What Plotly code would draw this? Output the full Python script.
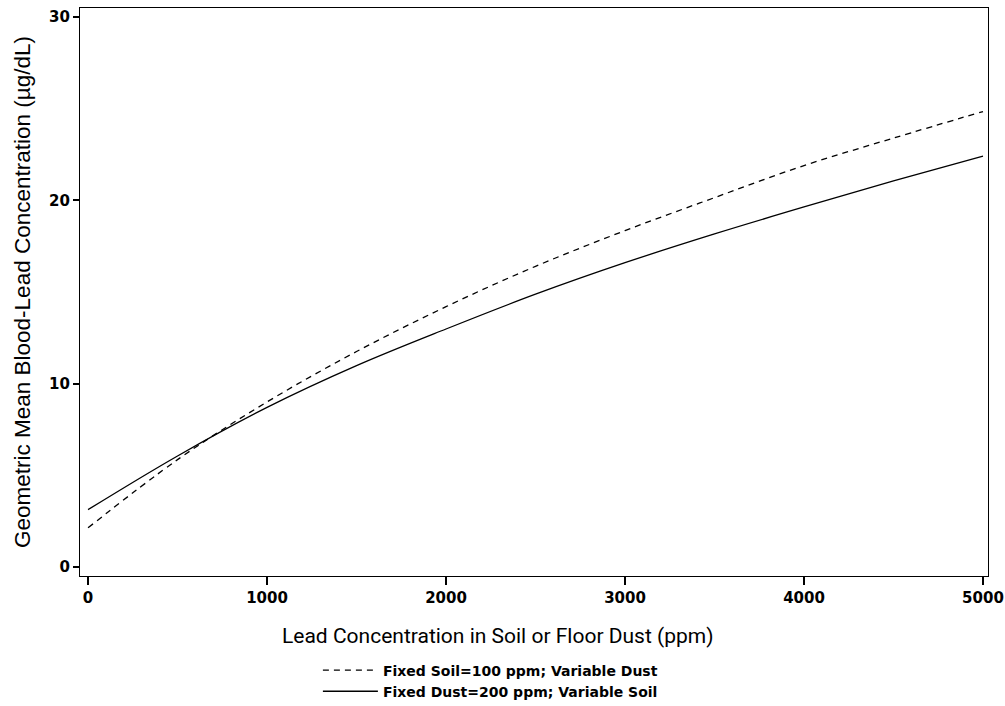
import plotly.graph_objects as go

lead_ppm = [0, 500, 1000, 1500, 2000, 2500, 3000, 3500, 4000, 4500, 5000]
fixed_soil_var_dust = [2.13, 5.85, 9.0, 11.75, 14.2, 16.4, 18.35, 20.15, 21.9, 23.4, 24.85]
fixed_dust_var_soil = [3.12, 6.05, 8.7, 10.98, 12.98, 14.88, 16.6, 18.17, 19.64, 21.06, 22.42]

series_names = ["Fixed Soil=100 ppm; Variable Dust", "Fixed Dust=200 ppm; Variable Soil"]
x_ticks = [0, 1000, 2000, 3000, 4000, 5000]
y_ticks = [0, 10, 20, 30]

fig = go.Figure()
fig.add_trace(go.Scatter(x=lead_ppm, y=fixed_soil_var_dust, mode="lines", name=series_names[0],
                         line=dict(color="black", width=1.3, dash="6px,5px", shape="spline")))
fig.add_trace(go.Scatter(x=lead_ppm, y=fixed_dust_var_soil, mode="lines", name=series_names[1],
                         line=dict(color="black", width=1.3, shape="spline")))

fig.update_layout(
    width=1005, height=706,
    margin=dict(l=80, r=17, t=8, b=130),
    paper_bgcolor="white", plot_bgcolor="white",
    showlegend=True,
    legend=dict(x=0.262, xref="paper", y=0.073, yref="container", xanchor="left", yanchor="top",
                font=dict(family="DejaVu Sans", size=14, color="black", weight="bold"),
                tracegroupgap=0, itemwidth=55, bgcolor="rgba(0,0,0,0)"),
    xaxis=dict(range=[-45, 5028], tickvals=x_ticks, ticks="outside", ticklen=8, tickwidth=1.5,
               tickcolor="black", showgrid=False, zeroline=False, showline=True, linecolor="black",
               linewidth=1.3, mirror=True, automargin=False,
               tickfont=dict(family="DejaVu Sans", size=15, color="black", weight="bold")),
    yaxis=dict(range=[-0.5, 30.5], tickvals=y_ticks, ticks="outside", ticklen=6, tickwidth=1.5,
               tickcolor="black", showgrid=False, zeroline=False, showline=True, linecolor="black",
               linewidth=1.3, mirror=True, automargin=False,
               tickfont=dict(family="DejaVu Sans", size=15, color="black", weight="bold"),
               title=dict(text="Geometric Mean Blood-Lead Concentration (µg/dL)",
                          font=dict(family="Liberation Sans", size=22.5, color="black"), standoff=12)),
    annotations=[dict(text="Lead Concentration in Soil or Floor Dust (ppm)", xref="paper", yref="paper",
                      x=0.46, y=-0.1056, xanchor="center", yanchor="middle", showarrow=False,
                      font=dict(family="Roboto", size=21, color="black"))],
)

fig.write_html("out.html")
